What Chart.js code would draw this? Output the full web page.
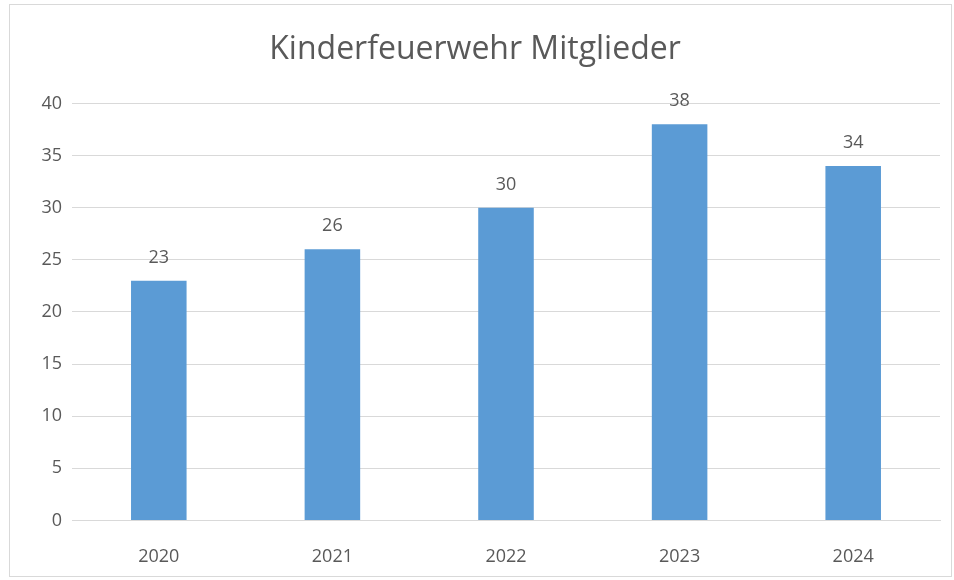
<!DOCTYPE html>
<html>
<head>
<meta charset="utf-8">
<script src="https://cdn.jsdelivr.net/npm/chart.js@4"></script>
<style>
  body { margin: 0; background: #fff; }
  #rahmen { position: absolute; left: 9px; top: 4px; width: 941px; height: 571px; border: 1px solid #d9d9d9; }
</style>
</head>
<body>
<div id="rahmen"><canvas id="chartMitglieder"></canvas></div>
<script>
// Daten
const jahre = ["2020", "2021", "2022", "2023", "2024"];
const mitglieder = [23, 26, 30, 38, 34];
const titel = "Kinderfeuerwehr Mitglieder";

const grau = "#595959";

// Werte über den Balken anzeigen
const wertePlugin = {
  id: "werte",
  afterDatasetsDraw(chart) {
    const ctx = chart.ctx;
    ctx.save();
    ctx.font = "18px 'Open Sans'";
    ctx.fillStyle = grau;
    ctx.textAlign = "center";
    ctx.textBaseline = "bottom";
    chart.getDatasetMeta(0).data.forEach((bar, i) => {
      ctx.fillText(mitglieder[i], bar.x, bar.y - 14);
    });
    ctx.restore();
  }
};

const ctx = document.getElementById("chartMitglieder").getContext("2d");
new Chart(ctx, {
  type: "bar",
  data: {
    labels: jahre,
    datasets: [{
      data: mitglieder,
      backgroundColor: "#5b9bd5",
      barPercentage: 0.32,
      categoryPercentage: 1
    }]
  },
  options: {
    responsive: true,
    maintainAspectRatio: false,
    animation: false,
    layout: { padding: { left: 0, right: 11, top: 0, bottom: -10 } },
    plugins: {
      legend: { display: false },
      tooltip: { enabled: false },
      title: {
        display: true,
        text: titel,
        color: grau,
        font: { family: "'Open Sans'", size: 32, weight: "normal" },
        padding: { top: 26, bottom: 34 }
      }
    },
    scales: {
      x: {
        grid: { display: false },
        border: { color: "#d9d9d9" },
        ticks: { color: grau, font: { family: "'Open Sans'", size: 18 }, padding: 18 }
      },
      y: {
        min: 0,
        max: 40,
        ticks: { stepSize: 5, color: grau, font: { family: "'Open Sans'", size: 18 }, padding: 10 },
        grid: { color: "#d9d9d9", drawTicks: false },
        border: { display: false },
        afterFit(scale) { scale.width = 62; }
      }
    }
  },
  plugins: [wertePlugin]
});
</script>
</body>
</html>
